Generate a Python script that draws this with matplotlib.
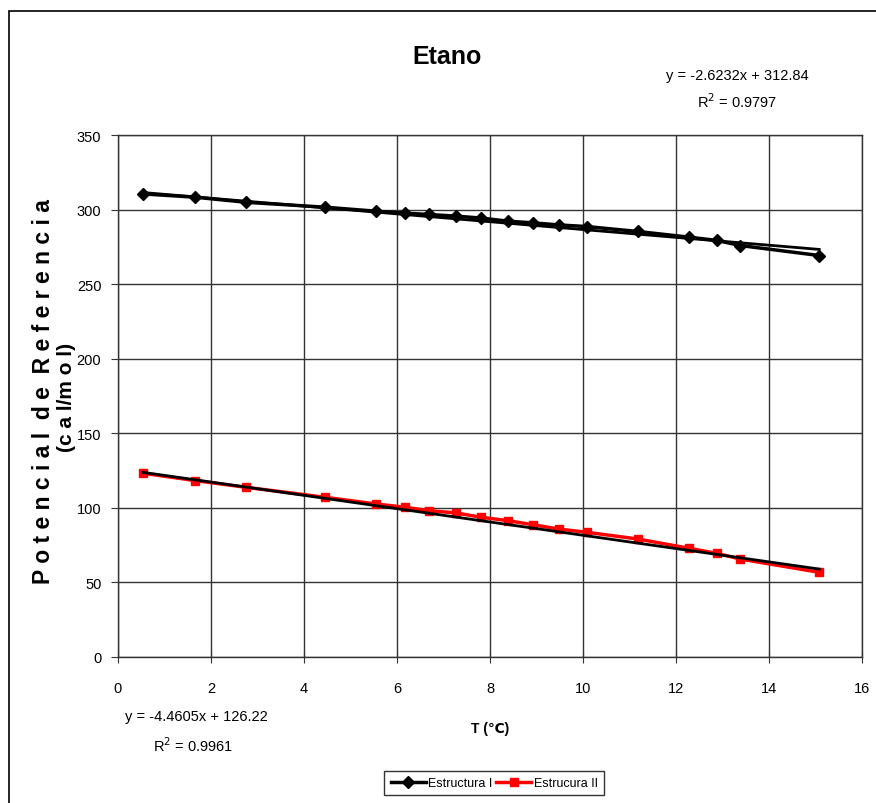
import matplotlib
matplotlib.use("Agg")
import matplotlib.pyplot as plt
from matplotlib.patches import Rectangle
import numpy as np

plt.rcParams['font.family'] = ['Liberation Sans', 'DejaVu Sans']

# temperaturas (C)
temp = [0.54, 1.66, 2.75, 4.45, 5.55, 6.17, 6.69, 7.27, 7.81, 8.39,
        8.92, 9.48, 10.09, 11.18, 12.28, 12.88, 13.38, 15.08]
# Estructura I
est1 = [310.5, 308.3, 304.9, 301.6, 298.9, 297.6, 296.7, 295.6, 294.3, 292.2,
        291.1, 289.7, 288.6, 285.3, 281.5, 279.3, 275.9, 269.2]
# Estrucura II
est2 = [123.2, 118.3, 113.8, 107.1, 102.6, 100.4, 98.1, 96.6, 93.7, 91.4,
        88.7, 85.8, 83.6, 79.1, 72.9, 69.5, 65.7, 56.8]

# lineas de tendencia (Excel)
m1, b1 = -2.6232, 312.84
m2, b2 = -4.4605, 126.22
eq1 = "y = -2.6232x + 312.84"
r2_1 = "R$^2$ = 0.9797"
eq2 = "y = -4.4605x + 126.22"
r2_2 = "R$^2$ = 0.9961"

fig = plt.figure(figsize=(8.76, 8.04), dpi=100)
ax = fig.add_axes([118/876, 1-658/804, (862-118)/876, (658-136)/804])

# marco exterior
fig.patches.append(Rectangle((9/876, -0.1), 1.2, 1-12/804+0.1, transform=fig.transFigure,
                             fill=False, edgecolor='black', linewidth=1.2))

ax.plot(temp, est1, color='black', lw=2.5, marker='D', ms=6, label='Estructura I', zorder=3)
ax.plot(temp, est2, color='red', lw=2.5, marker='s', ms=6, mfc='red', mec='red',
        label='Estrucura II', zorder=3)

xt = np.array([temp[0], temp[-1]])
ax.plot(xt, m1*xt + b1, color='black', lw=2, zorder=4)
ax.plot(xt, m2*xt + b2, color='black', lw=2, zorder=4)

ax.set_xlim(0, 16)
ax.set_ylim(0, 350)
ax.set_xticks(range(0, 17, 2))
ax.set_yticks(range(0, 351, 50))
ax.grid(True, color='#333333', lw=1)
ax.set_axisbelow(True)
for s in ax.spines.values():
    s.set_color('#333333')
    s.set_linewidth(1)
ax.tick_params(direction='out', length=5, labelsize=10.5, color='#333333', pad=7)
ax.tick_params(axis='x', direction='inout', length=8, pad=13)

fig.text(447/876, 1-57/804, "Etano", ha='center', va='center', fontsize=18, fontweight='bold')
fig.text(737/876, 1-76/804, eq1, ha='center', va='center', fontsize=10.5)
fig.text(737/876, 1-102/804, r2_1, ha='center', va='center', fontsize=10.5)
fig.text(196/876, 1-717/804, eq2, ha='center', va='center', fontsize=10.5)
fig.text(193/876, 1-746/804, r2_2, ha='center', va='center', fontsize=10.5)
fig.text(490/876, 1-729/804, "T (℃)", ha='center', va='center', fontsize=10, fontweight='bold')

fig.text(44/876, 1-392/804, "P o t e n c i a l  d e  R e f e r e n c i a", rotation=90,
         ha='center', va='center', fontsize=16.5, fontweight='bold')
fig.text(67/876, 1-397/804, "(c a l/m o l)", rotation=90,
         ha='center', va='center', fontsize=15, fontweight='bold')

leg = fig.legend(loc='center', bbox_to_anchor=(494/876, 1-784/804), ncol=2, fontsize=9,
                 frameon=True, fancybox=False, edgecolor='black', handlelength=2.8,
                 columnspacing=0.3, handletextpad=0.2, borderpad=0.5, borderaxespad=0)
leg.get_frame().set_linewidth(1)

fig.savefig("out.png", dpi=100)
